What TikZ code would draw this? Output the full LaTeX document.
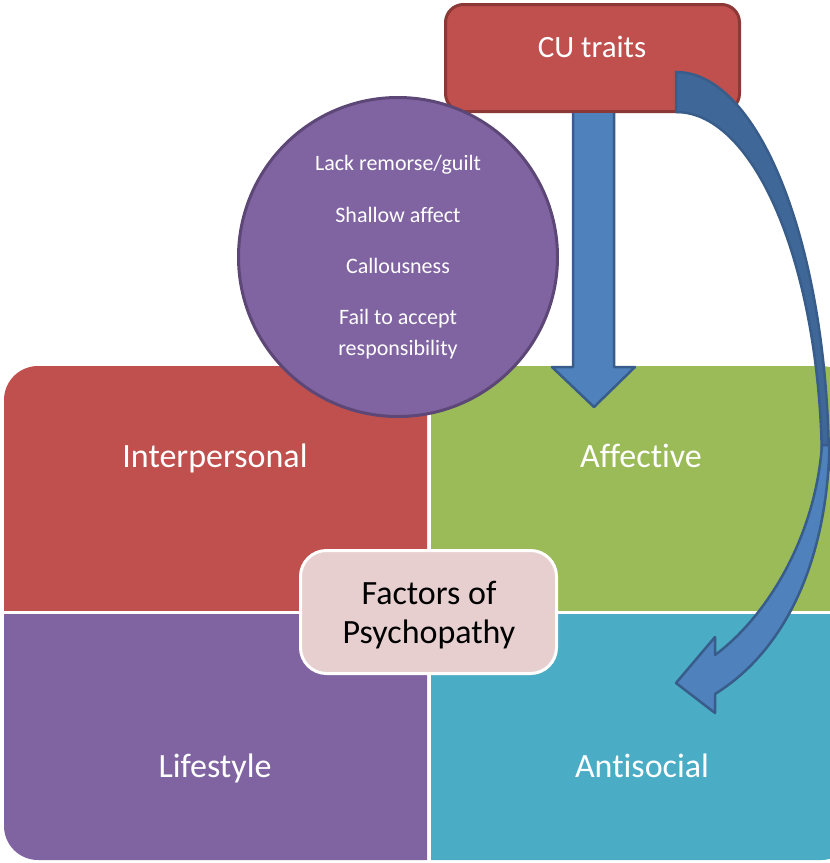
\documentclass[tikz,border=0pt]{standalone}
\usepackage{fontspec}
\setmainfont[RawFeature={-liga;-clig;-calt;-dlig}]{Carlito}
\definecolor{cred}{HTML}{C0504D}
\definecolor{credb}{HTML}{8C3836}
\definecolor{cgreen}{HTML}{9BBB59}
\definecolor{cpurple}{HTML}{8064A2}
\definecolor{cpurpleb}{HTML}{5C4776}
\definecolor{cteal}{HTML}{4BACC6}
\definecolor{cblue}{HTML}{4F81BD}
\definecolor{cblueb}{HTML}{385D8A}
\definecolor{cblued}{HTML}{3F6797}
\definecolor{cpink}{HTML}{E7CFD0}
\begin{document}
\begin{tikzpicture}[x=1pt,y=-1pt,
  qlab/.style={text=white,font=\fontsize{34}{40}\selectfont,inner sep=0pt},
  clab/.style={text=white,font=\fontsize{22}{26}\selectfont,inner sep=0pt,anchor=base},
  blockarrow/.style={draw=cblueb,line width=2.5pt,line join=round}]
\useasboundingbox (0,0) rectangle (830,863);
\begin{scope}
\clip (0,0) rectangle (830,863);
% quadrants
\begin{scope}\clip (4,366) rectangle (427,610);
  \fill[cred,rounded corners=34pt] (4,366) rectangle (490,680);\end{scope}
\begin{scope}\clip (431,366) rectangle (855,610);
  \fill[cgreen,rounded corners=34pt] (370,366) rectangle (855,680);\end{scope}
\begin{scope}\clip (4,614) rectangle (427,860);
  \fill[cpurple,rounded corners=34pt] (4,550) rectangle (490,860);\end{scope}
\begin{scope}\clip (431,614) rectangle (855,860);
  \fill[cteal,rounded corners=34pt] (370,550) rectangle (855,860);\end{scope}
\node[qlab,anchor=base] (interp) at (215,467) {Interpersonal};
\node[qlab,anchor=base] (affect) at (641,467) {Affective};
\node[qlab,anchor=base] (life) at (215,777) {Lifestyle};
\node[qlab,anchor=base] (anti) at (642,777) {Antisocial};
% centre box
\node[draw=white,line width=3pt,fill=cpink,rounded corners=26pt,
  minimum width=256pt,minimum height=123pt] (fac) at (428.5,612) {};
\node[align=center,text=black,inner sep=0pt,
  font=\fontsize{34}{39}\selectfont] (factext) at (429,615) {Factors of\\Psychopathy};
% CU traits box
\node[fill=cred,draw=credb,line width=3pt,rounded corners=18pt,
  minimum width=294pt,minimum height=107pt] (cu) at (592.5,58) {};
\node[text=white,font=\fontsize{31}{37}\selectfont,anchor=base,inner sep=0pt] (cutext) at (592,57) {CU traits};
% circle
\node[circle,fill=cpurple,draw=cpurpleb,line width=3pt,minimum size=319pt] (circ) at (398,257) {};
\node[clab] (l1) at (398,170) {Lack remorse/guilt};
\node[clab] (l2) at (398,222) {Shallow affect};
\node[clab] (l3) at (398,273) {Callousness};
\node[clab] (l4) at (398,324) {Fail to accept};
\node[clab] (l5) at (398,355) {responsibility};
% straight down arrow
\draw[blockarrow,fill=cblue] (573,113) -- (573,367) -- (552,367) -- (594,407)
  -- (635,367) -- (614,367) -- (614,113);
% curved arrow, back part
\filldraw[blockarrow,fill=cblued] (676,72)
  arc[start angle=270,end angle=360,x radius=153,y radius=398]
  -- (822,470)
  arc[start angle=0,end angle=-90,x radius=146,y radius=358] -- cycle;
% curved arrow, front part with head
\filldraw[blockarrow,fill=cblue] (822,445) .. controls (815,540) and (765,618) .. (715,655)
  -- (715,637) -- (676,683) -- (715,713) -- (715,694)
  .. controls (786,650) and (827,560) .. (829.5,445) -- cycle;
\end{scope}
\end{tikzpicture}
\end{document}
